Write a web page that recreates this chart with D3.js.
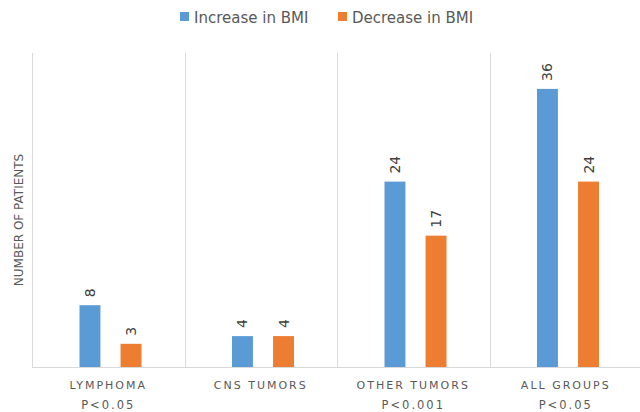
<!DOCTYPE html>
<html>
<head>
<meta charset="utf-8">
<script src="https://cdn.jsdelivr.net/npm/d3@7"></script>
<style>
  body { margin: 0; background: #fff; }
  text { font-family: "DejaVu Sans", sans-serif; fill: #595959; }
</style>
</head>
<body>
<div id="chart"></div>
<script>
'use strict';

const categories = ['LYMPHOMA', 'CNS TUMORS', 'OTHER TUMORS', 'ALL GROUPS'];
const pValues = ['P<0.05', '', 'P<0.001', 'P<0.05'];
const seriesNames = ['Increase in BMI', 'Decrease in BMI'];
const increaseValues = [8, 4, 24, 36];
const decreaseValues = [3, 4, 17, 24];
const colors = ['#5B9BD5', '#ED7D31'];

const width = 640, height = 412;
const margin = { top: 53, right: -2, bottom: 45, left: 32 };
const baseline = height - margin.bottom;

const svg = d3.select('#chart').append('svg')
  .attr('width', width)
  .attr('height', height);

const x = d3.scaleBand()
  .domain(categories)
  .range([margin.left, width - margin.right]);

const xInner = d3.scaleBand()
  .domain(seriesNames)
  .range([47.5, 109.5])
  .paddingInner(0.49);

const y = d3.scaleLinear()
  .domain([0, 40])
  .range([baseline, 58]);

// vertical separators
svg.append('g')
  .selectAll('line')
  .data(categories)
  .join('line')
    .attr('x1', (d) => Math.round(x(d)) + 0.5)
    .attr('x2', (d) => Math.round(x(d)) + 0.5)
    .attr('y1', margin.top)
    .attr('y2', baseline)
    .attr('stroke', '#d9d9d9');

// baseline
svg.append('line')
  .attr('x1', margin.left)
  .attr('x2', width)
  .attr('y1', baseline + 0.5)
  .attr('y2', baseline + 0.5)
  .attr('stroke', '#d9d9d9');

const rows = categories.map((c, i) => ({
  key: c,
  values: [
    { name: seriesNames[0], value: increaseValues[i], color: colors[0] },
    { name: seriesNames[1], value: decreaseValues[i], color: colors[1] }
  ]
}));

const groups = svg.selectAll('.group')
  .data(rows)
  .join('g')
    .attr('class', 'group')
    .attr('transform', (d) => `translate(${x(d.key)},0)`);

groups.selectAll('rect')
  .data((d) => d.values)
  .join('rect')
    .attr('x', (d) => xInner(d.name))
    .attr('width', xInner.bandwidth())
    .attr('y', (d) => y(d.value))
    .attr('height', (d) => baseline - y(d.value))
    .attr('fill', (d) => d.color);

groups.selectAll('.val')
  .data((d) => d.values)
  .join('text')
    .attr('class', 'val')
    .attr('transform', (d) =>
      `translate(${xInner(d.name) + xInner.bandwidth() / 2 + 5},${y(d.value) - 8}) rotate(-90)`)
    .attr('font-size', 14)
    .style('fill', '#404040')
    .text((d) => d.value);

// category labels
const xLabels = svg.append('g')
  .selectAll('g')
  .data(categories)
  .join('g')
    .attr('transform', (d) => `translate(${x(d) + x.bandwidth() / 2},0)`);

xLabels.append('text')
  .attr('y', 389)
  .attr('text-anchor', 'middle')
  .attr('font-size', 11)
  .attr('letter-spacing', 2)
  .text((d) => d);

xLabels.append('text')
  .attr('y', 409)
  .attr('text-anchor', 'middle')
  .attr('font-size', 11.5)
  .attr('letter-spacing', 2)
  .text((d, i) => pValues[i]);

// y axis title
svg.append('text')
  .attr('transform', `translate(23,${(margin.top + baseline) / 2 + 10}) rotate(-90)`)
  .attr('text-anchor', 'middle')
  .attr('font-size', 12)
  .text('NUMBER OF PATIENTS');

// legend
const legendX = [180, 338];
const legend = svg.append('g')
  .selectAll('g')
  .data(seriesNames)
  .join('g')
    .attr('transform', (d, i) => `translate(${legendX[i]},12)`);

legend.append('rect')
  .attr('width', 9)
  .attr('height', 9)
  .attr('fill', (d, i) => colors[i]);

legend.append('text')
  .attr('x', 14)
  .attr('y', 10.5)
  .attr('font-size', 15)
  .text((d) => d);
</script>
</body>
</html>
